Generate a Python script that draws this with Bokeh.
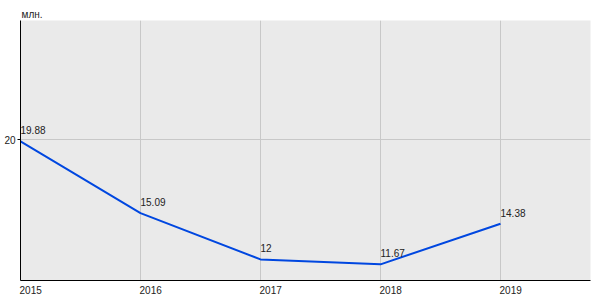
from bokeh.plotting import figure
from bokeh.models import Range1d, FixedTicker, ColumnDataSource, LinearAxis, Grid
from bokeh.core.properties import value
from bokeh.embed import file_html
from bokeh.resources import INLINE

years = [2015, 2016, 2017, 2018, 2019]
values = [19.88, 15.09, 12.0, 11.67, 14.38]
value_labels = ["19.88", "15.09", "12", "11.67", "14.38"]
year_labels = ["2015", "2016", "2017", "2018", "2019"]
y_ticks = [20]
unit_label = "млн."

FONT = "Liberation Sans"
TXT = "#222222"
X0, X1 = 2015, 2019.75
SHIFT = 0.085  # years: left-align year labels at the tick

p = figure(width=600, height=300, output_backend="svg", toolbar_location=None,
           x_range=Range1d(X0, X1), y_range=Range1d(10.59, 27.95),
           x_axis_location=None,
           min_border_left=20, min_border_right=10, min_border_top=20, min_border_bottom=20,
           title=unit_label)
p.background_fill_color = "#eaeaea"
p.border_fill_color = "white"
p.outline_line_color = None

p.title.align = "left"
p.title.text_font = FONT
p.title.text_font_size = "10px"
p.title.text_font_style = "normal"
p.title.text_color = TXT
p.title.standoff = 2
p.title.offset = 1

p.add_layout(Grid(dimension=0, ticker=FixedTicker(ticks=years), grid_line_color="#c8c8c8"))
p.ygrid.ticker = FixedTicker(ticks=y_ticks)
p.ygrid.grid_line_color = "#c8c8c8"

p.extra_x_ranges = {"labels": Range1d(X0 - SHIFT, X1 - SHIFT)}
xa = LinearAxis(x_range_name="labels", ticker=FixedTicker(ticks=years),
                major_label_overrides={y: l for y, l in zip(years, year_labels)})
xa.major_tick_out = 0
xa.major_tick_in = 0
xa.minor_tick_out = 0
xa.minor_tick_in = 0
xa.axis_line_color = "black"
xa.major_label_standoff = 5
xa.major_label_text_font = FONT
xa.major_label_text_font_size = "10px"
xa.major_label_text_color = TXT
p.add_layout(xa, "below")

p.yaxis.ticker = FixedTicker(ticks=y_ticks)
p.yaxis.major_tick_out = 3
p.yaxis.major_tick_in = 0
p.yaxis.minor_tick_out = 0
p.yaxis.minor_tick_in = 0
p.yaxis.major_label_standoff = 2
p.yaxis.major_label_text_font = FONT
p.yaxis.major_label_text_font_size = "10px"
p.yaxis.major_label_text_color = TXT
p.yaxis.axis_line_color = "black"

src = ColumnDataSource(dict(x=years, y=values, t=value_labels))
p.line("x", "y", source=src, line_color="#0047e0", line_width=2)
p.text("x", "y", text="t", source=src, text_font=value(FONT), text_font_size="10px",
       text_color=TXT, text_align="left", text_baseline="alphabetic", y_offset=-11)

open("out.html", "w").write(file_html(p, INLINE))
